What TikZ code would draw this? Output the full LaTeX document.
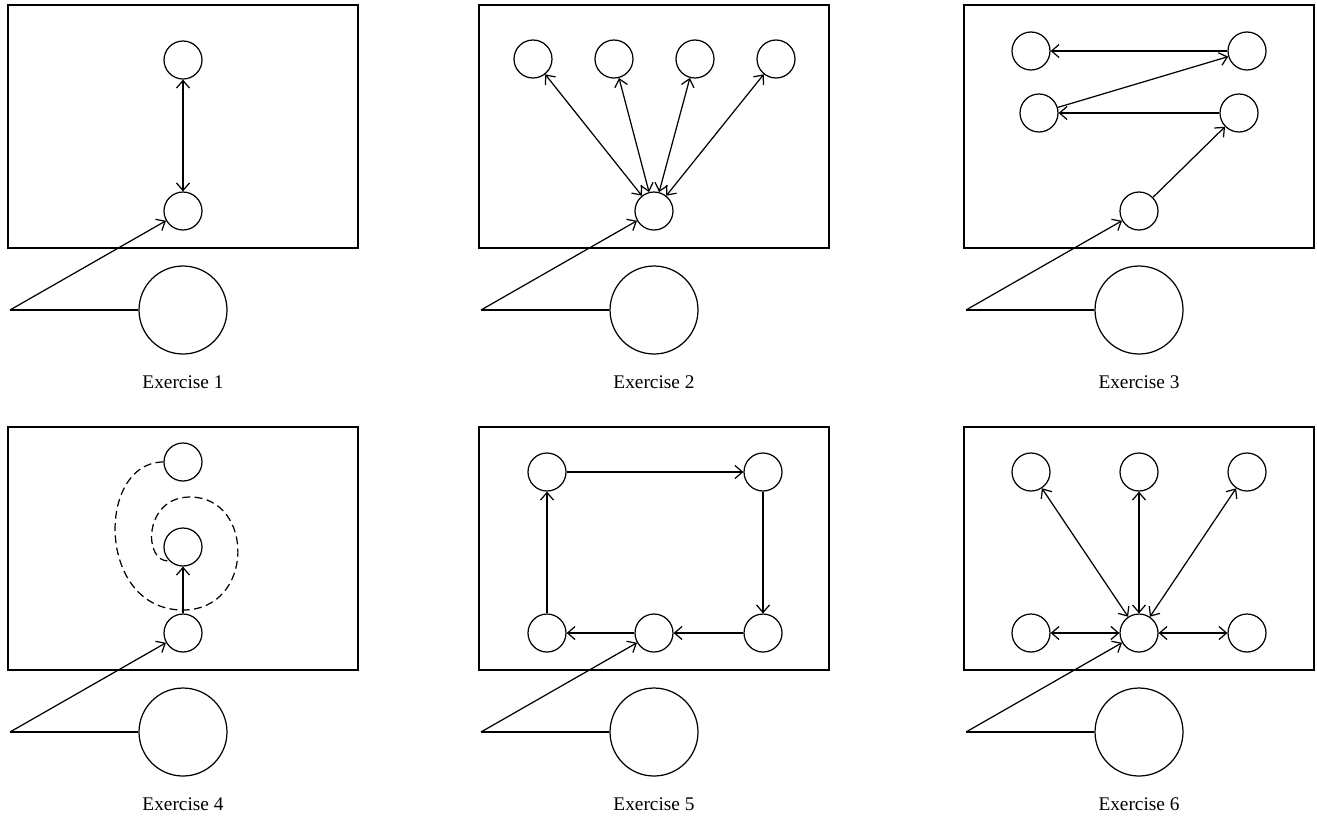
\documentclass[tikz,border=0pt]{standalone}
\usepackage{fontspec}
\setmainfont{Liberation Serif}
\usetikzlibrary{arrows.meta}

% frame, input line, big circle and caption of one exercise
\newcommand{\exframe}[2]{%
\draw (8,5) rectangle (358,248);
\node[dot] (#1s) at (183,211) {};
\node[bigdot] (#1b) at (183,310) {};
\coordinate (#1in) at (10,310);
\draw (#1b.west) -- (#1in);
\draw[->] (#1in) -- (#1s);
\node[anchor=base,font=\fontsize{11}{13}\selectfont] (#1lbl) at (183,388) {#2};
}

\begin{document}
\begin{tikzpicture}[x=0.02cm,y=-0.02cm,line width=0.7pt,
  >={Straight Barb[length=1.5mm,width=2.6mm]},
  dot/.style={circle,draw,minimum size=0.76cm,inner sep=0pt},
  bigdot/.style={circle,draw,minimum size=1.76cm,inner sep=0pt}]
\useasboundingbox (0,0) rectangle (1317,816);

% Exercise 1
\begin{scope}
\exframe{a}{Exercise 1}
\node[dot] (a1) at (183,60) {};
\draw[<->] (as) -- (a1);
\end{scope}

% Exercise 2
\begin{scope}[shift={(471,0)}]
\exframe{b}{Exercise 2}
\node[dot] (b1) at (62,59) {};
\node[dot] (b2) at (143,59) {};
\node[dot] (b3) at (224,59) {};
\node[dot] (b4) at (305,59) {};
\foreach \i in {1,...,4}
  \draw[<->] (bs) -- (b\i);
\end{scope}

% Exercise 3
\begin{scope}[shift={(956,0)}]
\exframe{c}{Exercise 3}
\node[dot] (c1) at (75,51) {};
\node[dot] (c2) at (291,51) {};
\node[dot] (c3) at (83,113) {};
\node[dot] (c4) at (283,113) {};
\draw[->] (c2) -- (c1);
\draw[->] (c3) -- (c2);
\draw[->] (c4) -- (c3);
\draw[->] (cs) -- (c4);
\end{scope}

% Exercise 4
\begin{scope}[shift={(0,422)}]
\exframe{d}{Exercise 4}
\node[dot] (d1) at (183,40) {};
\node[dot] (d2) at (183,125) {};
\draw[->] (ds) -- (d2);
\draw[dash pattern=on 4.5pt off 2.5pt] (d1.west) .. controls (96,40) and (96,188) .. (183,188)
  .. controls (255,188) and (255,75) .. (190,75)
  .. controls (143,75) and (143,141) .. (d2.south west);
\end{scope}

% Exercise 5
\begin{scope}[shift={(471,422)}]
\exframe{e}{Exercise 5}
\node[dot] (e1) at (76,50) {};
\node[dot] (e2) at (292,50) {};
\node[dot] (e3) at (76,211) {};
\node[dot] (e4) at (292,211) {};
\draw[->] (e1) -- (e2);
\draw[->] (e2) -- (e4);
\draw[->] (e4) -- (es);
\draw[->] (es) -- (e3);
\draw[->] (e3) -- (e1);
\end{scope}

% Exercise 6
\begin{scope}[shift={(956,422)}]
\exframe{f}{Exercise 6}
\node[dot] (f1) at (75,50) {};
\node[dot] (f2) at (183,50) {};
\node[dot] (f3) at (291,50) {};
\node[dot] (f4) at (75,211) {};
\node[dot] (f5) at (291,211) {};
\foreach \i in {1,...,5}
  \draw[<->] (fs) -- (f\i);
\end{scope}
\end{tikzpicture}
\end{document}
